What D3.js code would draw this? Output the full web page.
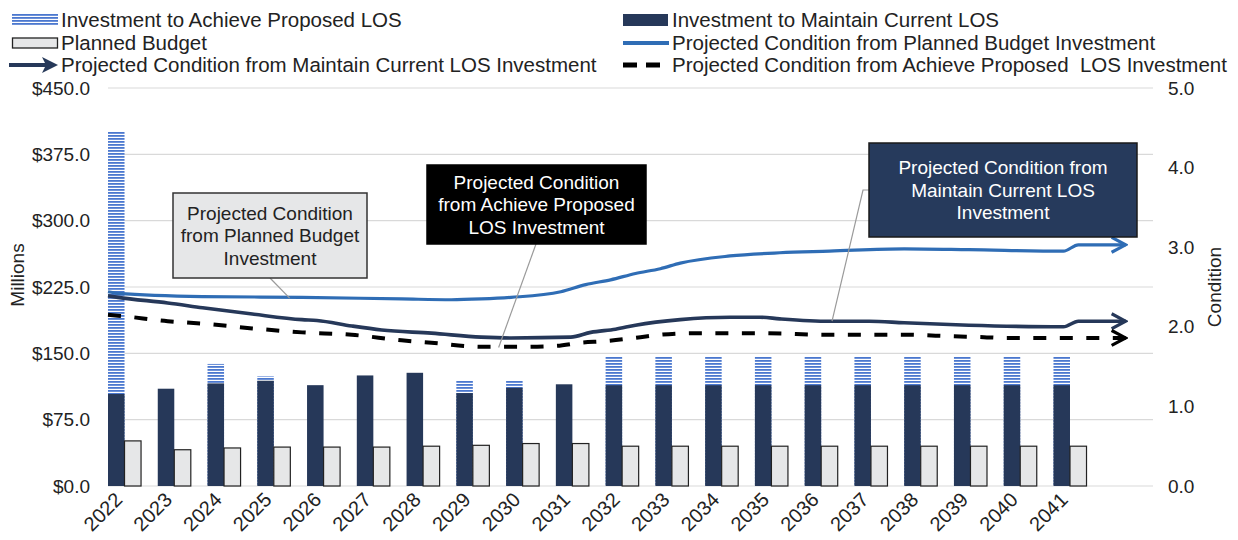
<!DOCTYPE html>
<html>
<head>
<meta charset="utf-8">
<script src="https://cdn.jsdelivr.net/npm/d3@7"></script>
<style>
  body { margin: 0; background: #fff; }
  svg text { font-family: "Liberation Sans", Arial, sans-serif; fill: #222; }
</style>
</head>
<body>
<svg id="chart" width="1238" height="540"></svg>
<script>
// ---- data ----
const years = [2022,2023,2024,2025,2026,2027,2028,2029,2030,2031,2032,2033,2034,2035,2036,2037,2038,2039,2040,2041];
const maintainLOS = [104,110,116,119,114,125,128,105,111,115,114,114,114,114,114,114,114,114,114,114];
// total investment to achieve proposed LOS (null = no extra over maintain)
const proposedLOS = [401,null,138,124,null,null,null,119,119,null,146,146,146,146,146,146,146,146,146,146];
const plannedBudget = [51,41,43,44,44,44,45,46,48,48,45,45,45,45,45,45,45,45,45,45];

const moneyTicks = [0,75,150,225,300,375,450];
const condTicks = [0,1,2,3,4,5];

// condition lines: [year, condition]
const condPlanned = [[2022.0,2.44],[2022.2,2.42],[2023.9,2.38],[2025.9,2.37],[2027.9,2.35],[2028.9,2.34],[2029.5,2.35],[2030.1,2.37],[2031.1,2.44],[2031.6,2.53],[2032.1,2.59],[2032.6,2.67],[2033.1,2.73],[2033.5,2.80],[2034.5,2.89],[2035.5,2.93],[2036.5,2.95],[2038.0,2.98],[2039.3,2.97],[2041.2,2.95],[2041.5,3.03],[2042.45,3.03]];
const condMaintain = [[2022.0,2.39],[2022.2,2.37],[2023.2,2.30],[2023.9,2.24],[2024.9,2.16],[2025.9,2.09],[2026.2,2.08],[2026.9,2.01],[2027.5,1.96],[2028.5,1.92],[2029.5,1.87],[2030.1,1.86],[2031.3,1.87],[2031.7,1.93],[2032.2,1.97],[2032.6,2.02],[2033.5,2.09],[2034.5,2.12],[2035.1,2.12],[2035.5,2.10],[2036.5,2.07],[2037.3,2.07],[2038.0,2.05],[2039.3,2.02],[2041.2,2.00],[2041.5,2.07],[2042.45,2.07]];
const condProposed = [[2022.0,2.15],[2022.2,2.14],[2023.2,2.07],[2023.9,2.04],[2024.9,1.98],[2025.9,1.93],[2026.9,1.90],[2027.9,1.83],[2028.5,1.80],[2029.5,1.75],[2030.4,1.75],[2031.0,1.76],[2031.5,1.80],[2032.0,1.82],[2032.7,1.87],[2033.1,1.90],[2033.8,1.92],[2035.1,1.92],[2036.5,1.90],[2038.0,1.90],[2039.0,1.88],[2039.6,1.87],[2040.0,1.86],[2041.2,1.86],[2042.45,1.86]];

const legendItems = [
  {label: "Investment to Achieve Proposed LOS", kind: "hatch"},
  {label: "Investment to Maintain Current LOS", kind: "navy"},
  {label: "Planned Budget", kind: "budget"},
  {label: "Projected Condition from Planned Budget Investment", kind: "blueline"},
  {label: "Projected Condition from Maintain Current LOS Investment", kind: "arrow"},
  {label: "Projected Condition from Achieve Proposed  LOS Investment", kind: "dash"}
];

const callouts = [
  {lines: ["Projected Condition", "from Planned Budget", "Investment"], box: [173,193,194,85], fill: "#e6e7e8", text: "#222", stroke: "#333", from: [270,278], to: [2025.65, 2.36]},
  {lines: ["Projected Condition", "from Achieve Proposed", "LOS Investment"], box: [427,165,219,79], fill: "#000", text: "#fff", stroke: "#000", from: [536,244], to: [2029.85, 1.74]},
  {lines: ["Projected Condition from", "Maintain Current LOS", "Investment"], box: [869,143,268,94], fill: "#263a5c", text: "#fff", stroke: "#1a1a1a", from: [863,190], to: [2036.55, 2.07], elbow: [869,190]}
];

const NAVY = "#263859", BLUE = "#2f6db5", GRID = "#d9d9d9";

const svg = d3.select("#chart");
const x0 = 108, x1 = 1153, yTop = 88, yBot = 486;

const xB = d3.scaleBand().domain(years.concat([2042])).range([x0, x1]);
const xL = d3.scaleLinear().domain([2022, 2043]).range([x0, x1]);
const yL = d3.scaleLinear().domain([0, 450]).range([yBot, yTop]);
const yR = d3.scaleLinear().domain([0, 5]).range([yBot, yTop]);
const barW = xB.bandwidth() * 0.332;

// hatch pattern
const defs = svg.append("defs");
const pat = defs.append("pattern").attr("id", "hatch")
  .attr("patternUnits", "userSpaceOnUse").attr("width", 6).attr("height", 3);
pat.append("rect").attr("width", 6).attr("height", 3).attr("fill", "#fff");
pat.append("rect").attr("width", 6).attr("height", 1.8).attr("fill", "#4b78cf");

function openArrow(id, color) {
  defs.append("marker").attr("id", id)
    .attr("viewBox", "0 -9 17 18").attr("refX", 15).attr("refY", 0)
    .attr("markerWidth", 17).attr("markerHeight", 18)
    .attr("markerUnits", "userSpaceOnUse").attr("orient", "auto")
    .append("path").attr("d", "M1,-7.5 L15,0 L1,7.5")
    .attr("fill", "none").attr("stroke", color).attr("stroke-width", 3.2)
    .attr("stroke-linejoin", "miter");
}
openArrow("arrBlue", BLUE);
openArrow("arrNavy", NAVY);
openArrow("arrBlack", "#000");

// gridlines
svg.append("g").selectAll("line").data(moneyTicks).join("line")
  .attr("x1", x0).attr("x2", x1)
  .attr("y1", d => yL(d)).attr("y2", d => yL(d))
  .attr("stroke", GRID).attr("stroke-width", 1.2);

// left axis
const gL = svg.append("g").attr("transform", `translate(${x0},0)`)
  .call(d3.axisLeft(yL).tickValues(moneyTicks).tickFormat(d => "$" + d.toFixed(1)).tickSize(0).tickPadding(18));
gL.select(".domain").remove();
gL.selectAll("text").attr("font-size", 19).attr("fill", "#222");

// right axis
const gR = svg.append("g").attr("transform", `translate(${x1},0)`)
  .call(d3.axisRight(yR).tickValues(condTicks).tickFormat(d => d.toFixed(1)).tickSize(0).tickPadding(15));
gR.select(".domain").remove();
gR.selectAll("text").attr("font-size", 19).attr("fill", "#222");

svg.append("text").attr("transform", "translate(24,275) rotate(-90)")
  .attr("text-anchor", "middle").attr("font-size", 19).text("Millions");
svg.append("text").attr("transform", "translate(1221,287) rotate(-90)")
  .attr("text-anchor", "middle").attr("font-size", 19).text("Condition");

// bars
const bars = svg.append("g");
bars.selectAll(".prop").data(years.map((y, i) => ({y, v: proposedLOS[i]})).filter(d => d.v != null)).join("rect")
  .attr("x", d => xB(d.y)).attr("width", barW)
  .attr("y", d => yL(d.v)).attr("height", d => yL(0) - yL(d.v))
  .attr("fill", "url(#hatch)");
bars.selectAll(".maint").data(years.map((y, i) => ({y, v: maintainLOS[i]}))).join("rect")
  .attr("x", d => xB(d.y)).attr("width", barW)
  .attr("y", d => yL(d.v)).attr("height", d => yL(0) - yL(d.v))
  .attr("fill", NAVY);
bars.selectAll(".budget").data(years.map((y, i) => ({y, v: plannedBudget[i]}))).join("rect")
  .attr("x", d => xB(d.y) + barW).attr("width", barW)
  .attr("y", d => yL(d.v)).attr("height", d => yL(0) - yL(d.v))
  .attr("fill", "#e6e7e8").attr("stroke", "#222").attr("stroke-width", 1.2);

// x labels
svg.append("g").selectAll("text").data(years).join("text")
  .attr("transform", d => `translate(${xB(d) + barW - 1},${yBot + 15}) rotate(-45)`)
  .attr("text-anchor", "end").attr("font-size", 20).text(d => d);

// condition lines
const line = d3.line().x(d => xL(d[0])).y(d => yR(d[1])).curve(d3.curveMonotoneX);
svg.append("path").datum(condPlanned).attr("d", line)
  .attr("fill", "none").attr("stroke", BLUE).attr("stroke-width", 3.2)
  .attr("marker-end", "url(#arrBlue)");
svg.append("path").datum(condMaintain).attr("d", line)
  .attr("fill", "none").attr("stroke", NAVY).attr("stroke-width", 3.6)
  .attr("marker-end", "url(#arrNavy)");
svg.append("path").datum(condProposed).attr("d", line)
  .attr("fill", "none").attr("stroke", "#000").attr("stroke-width", 4)
  .attr("stroke-dasharray", "13,13.5")
  .attr("marker-end", "url(#arrBlack)");

// callouts
callouts.forEach(c => {
  const g = svg.append("g");
  const [bx, by, bw, bh] = c.box;
  const tx = xL(c.to[0]), ty = yR(c.to[1]);
  const pts = c.elbow ? [c.elbow, c.from, [tx, ty]] : [c.from, [tx, ty]];
  g.append("polyline").attr("points", pts.map(p => p.join(",")).join(" "))
    .attr("fill", "none").attr("stroke", "#9a9a9a").attr("stroke-width", 1.2);
  g.append("rect").attr("x", bx).attr("y", by).attr("width", bw).attr("height", bh)
    .attr("fill", c.fill).attr("stroke", c.stroke).attr("stroke-width", 1.5);
  const lh = 22.5;
  const top = by + bh / 2 - lh * (c.lines.length - 1) / 2;
  c.lines.forEach((t, i) => {
    g.append("text").attr("x", bx + bw / 2).attr("y", top + i * lh)
      .attr("dy", "0.35em").attr("text-anchor", "middle")
      .attr("font-size", 19).style("fill", c.text).text(t);
  });
});

// legend
const legPos = [[12, 20], [623, 20], [12, 43], [623, 43], [12, 65], [623, 65]];
const leg = svg.append("g");
legendItems.forEach((it, i) => {
  const [lx, ly] = legPos[i];
  const g = leg.append("g").attr("transform", `translate(${lx},${ly})`);
  if (it.kind === "hatch") {
    g.append("rect").attr("x", 0).attr("y", -6).attr("width", 46).attr("height", 12).attr("fill", "url(#hatch)");
  } else if (it.kind === "navy") {
    g.append("rect").attr("x", 0).attr("y", -6).attr("width", 45).attr("height", 12).attr("fill", NAVY);
  } else if (it.kind === "budget") {
    g.append("rect").attr("x", 0.5).attr("y", -5).attr("width", 45).attr("height", 10)
      .attr("fill", "#e6e7e8").attr("stroke", "#222").attr("stroke-width", 1.3);
  } else if (it.kind === "blueline") {
    g.append("line").attr("x1", 0).attr("x2", 46).attr("y1", 0).attr("y2", 0)
      .attr("stroke", BLUE).attr("stroke-width", 4);
  } else if (it.kind === "arrow") {
    g.append("line").attr("x1", -3).attr("x2", 38).attr("y1", 0).attr("y2", 0)
      .attr("stroke", NAVY).attr("stroke-width", 4);
    g.append("path").attr("d", "M30,-8 L46,0 L30,8 L34,0 Z").attr("fill", NAVY);
  } else if (it.kind === "dash") {
    g.append("line").attr("x1", 0).attr("x2", 46).attr("y1", 0).attr("y2", 0)
      .attr("stroke", "#000").attr("stroke-width", 5).attr("stroke-dasharray", "14,9");
  }
  g.append("text").attr("x", 49).attr("y", 0).attr("dy", "0.35em")
    .attr("font-size", 20.5).style("white-space", "pre").text(it.label);
});
</script>
</body>
</html>
